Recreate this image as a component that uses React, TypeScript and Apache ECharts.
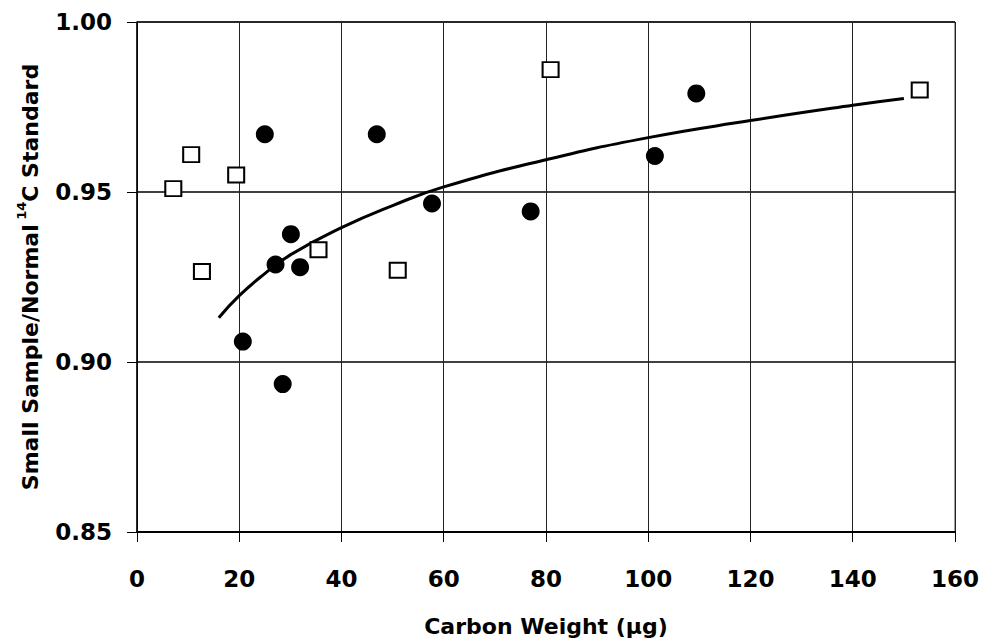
import React, { useEffect, useRef } from "react";
import * as echarts from "echarts";

const xTicks = [0, 20, 40, 60, 80, 100, 120, 140, 160];
const yTicks = [0.85, 0.9, 0.95, 1.0];

const circleX = [20.7, 25.0, 27.1, 28.5, 30.1, 31.9, 46.9, 57.7, 77.0, 101.3, 109.4];
const circleY = [0.906, 0.967, 0.9287, 0.8935, 0.9376, 0.9279, 0.967, 0.9466, 0.9443, 0.9606, 0.979];

const squareX = [7.1, 10.6, 12.7, 19.4, 35.5, 51.0, 80.9, 153.1];
const squareY = [0.951, 0.961, 0.9266, 0.955, 0.933, 0.927, 0.986, 0.98];

const curveX = [16, 20, 25, 30, 40, 50, 60, 80, 100, 120, 140, 150];
const curveY = [0.913, 0.9195, 0.926, 0.9315, 0.9395, 0.946, 0.9515, 0.9595, 0.966, 0.971, 0.9755, 0.9775];

const FONT = "DejaVu Sans";

export default function App() {
  const ref = useRef<HTMLDivElement>(null);
  useEffect(() => {
    if (!ref.current) return;
    const chart = echarts.init(ref.current, null, { renderer: "svg" });
    const zip = (xs: number[], ys: number[]) => xs.map((x, i) => [x, ys[i]]);
    chart.setOption({
      animation: false,
      backgroundColor: "#ffffff",
      grid: { left: 137, right: 27, top: 22, bottom: 111, show: true, borderColor: "#444", borderWidth: 1 },
      xAxis: {
        type: "value",
        min: xTicks[0],
        max: xTicks[xTicks.length - 1],
        interval: 20,
        name: "Carbon Weight (\u00b5g)",
        nameLocation: "middle",
        nameGap: 83,
        nameTextStyle: { fontFamily: FONT, fontWeight: "bold", fontSize: 22, color: "#000" },
        axisLine: { show: true, onZero: false, lineStyle: { color: "#000", width: 2 } },
        axisTick: { show: true, length: 10, lineStyle: { color: "#000", width: 1 } },
        axisLabel: { margin: 35, fontFamily: FONT, fontWeight: "bold", fontSize: 23, color: "#000" },
        splitLine: { show: true, lineStyle: { color: "#222", width: 1 } },
      },
      yAxis: {
        type: "value",
        min: yTicks[0],
        max: yTicks[yTicks.length - 1],
        interval: 0.05,
        name: "{n|Small Sample/Normal}{s| 14}{n|C Standard}",
        nameLocation: "middle",
        nameGap: 96,
        nameRotate: 90,
        nameTextStyle: {
          color: "#000",
          rich: {
            n: { fontFamily: FONT, fontWeight: "bold", fontSize: 22, color: "#000", lineHeight: 26, verticalAlign: "bottom" },
            s: { fontFamily: FONT, fontWeight: "bold", fontSize: 13, color: "#000", lineHeight: 26, verticalAlign: "top" },
          },
        },
        axisLine: { show: true, onZero: false, lineStyle: { color: "#000", width: 1.5 } },
        axisTick: { show: true, length: 10, lineStyle: { color: "#000", width: 1 } },
        axisLabel: {
          margin: 25,
          fontFamily: FONT,
          fontWeight: "bold",
          fontSize: 23,
          color: "#000",
          formatter: (v: number) => v.toFixed(2),
        },
        splitLine: { show: true, lineStyle: { color: "#000", width: 1.5 } },
      },
      series: [
        {
          type: "line",
          data: zip(curveX, curveY),
          smooth: true,
          showSymbol: false,
          symbol: "none",
          lineStyle: { color: "#000", width: 3 },
          z: 2,
        },
        {
          type: "scatter",
          data: zip(circleX, circleY),
          symbol: "circle",
          symbolSize: 18,
          itemStyle: { color: "#000", opacity: 1 },
          z: 3,
        },
        {
          type: "scatter",
          data: zip(squareX, squareY),
          symbol: "rect",
          symbolSize: [16, 15],
          itemStyle: { color: "#fff", borderColor: "#000", borderWidth: 2, opacity: 1 },
          z: 3,
        },
      ],
    });
    return () => chart.dispose();
  }, []);
  return <div ref={ref} style={{ position: "fixed", left: 0, top: 0, width: 982, height: 643 }} />;
}
